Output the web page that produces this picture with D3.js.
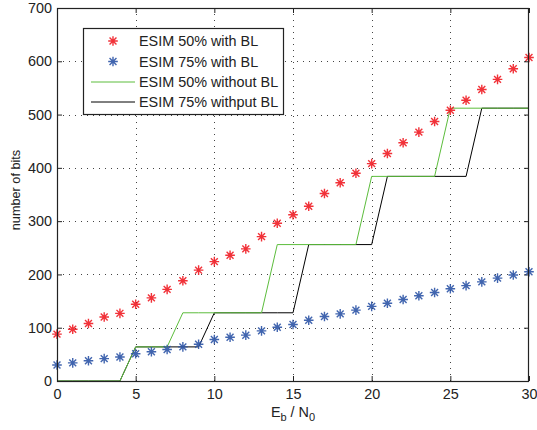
<!DOCTYPE html>
<html>
<head>
<meta charset="utf-8">
<script src="https://cdn.jsdelivr.net/npm/d3@7"></script>
<style>
  html, body { margin: 0; padding: 0; background: #fff; }
  svg text { font-family: "Liberation Sans", Arial, Helvetica, sans-serif; fill: #222; }
</style>
</head>
<body>
<svg id="chart" width="537" height="430"></svg>
<script>
// Eb/N0 sample points
const ebn0 = d3.range(0, 31);

// ESIM 50% with BL
const esim50BL = [88, 97, 108, 120, 127, 144, 156, 172, 188, 208, 224, 236, 248, 271, 296,
  312, 328, 352, 372, 390, 408, 427, 447, 467, 487, 508, 527, 547, 566, 586, 607];
// ESIM 75% with BL
const esim75BL = [30, 34, 38, 42, 45, 51, 55, 59, 64, 69, 78, 82, 86, 94, 101,
  106, 114, 121, 126, 133, 140, 146, 153, 160, 166, 173, 179, 186, 193, 199, 205];
// ESIM 50% without BL
const esim50 = [0, 0, 0, 0, 0, 64, 64, 64, 128, 128, 128, 128, 128, 128, 256,
  256, 256, 256, 256, 256, 384, 384, 384, 384, 384, 512, 512, 512, 512, 512, 512];
// ESIM 75% without BL
const esim75 = [0, 0, 0, 0, 0, 64, 64, 64, 64, 64, 128, 128, 128, 128, 128,
  128, 256, 256, 256, 256, 256, 384, 384, 384, 384, 384, 384, 512, 512, 512, 512];

const xTicks = [0, 5, 10, 15, 20, 25, 30];
const yTicks = [0, 100, 200, 300, 400, 500, 600, 700];

const legendLabels = ["ESIM 50% with BL", "ESIM 75% with BL", "ESIM 50% without BL", "ESIM 75% withput BL"];

const RED = "#f01c24", BLUE = "#2c54a6", GREEN = "#5cbd3c", BLACK = "#000";

const svg = d3.select("#chart");
const L = 57, R = 529, T = 8, B = 381;
const x = d3.scaleLinear().domain([0, 30]).range([L, R]);
const y = d3.scaleLinear().domain([0, 700]).range([B, T]);

// dotted grid
const grid = svg.append("g").attr("stroke", "#444").attr("stroke-width", 1)
  .attr("stroke-dasharray", "1,5");
xTicks.slice(1, -1).forEach(t => grid.append("line")
  .attr("x1", Math.round(x(t)) + 0.5).attr("x2", Math.round(x(t)) + 0.5)
  .attr("y1", T).attr("y2", B));
yTicks.slice(1, -1).forEach(t => grid.append("line")
  .attr("y1", Math.round(y(t)) + 0.5).attr("y2", Math.round(y(t)) + 0.5)
  .attr("x1", L).attr("x2", R));

// axes with inward ticks on all four sides
const fs = 14.4;
const ax = svg.append("g").attr("transform", `translate(0,${B})`)
  .call(d3.axisBottom(x).tickValues(xTicks).tickSizeInner(-5).tickSizeOuter(0).tickPadding(8));
const axTop = svg.append("g").attr("transform", `translate(0,${T})`)
  .call(d3.axisTop(x).tickValues(xTicks).tickSizeInner(-5).tickSizeOuter(0).tickFormat(""));
const ay = svg.append("g").attr("transform", `translate(${L},0)`)
  .call(d3.axisLeft(y).tickValues(yTicks).tickSizeInner(-5).tickSizeOuter(0).tickPadding(5));
const ayR = svg.append("g").attr("transform", `translate(${R},0)`)
  .call(d3.axisRight(y).tickValues(yTicks).tickSizeInner(-5).tickSizeOuter(0).tickFormat(""));
[ax, axTop, ay, ayR].forEach(g => {
  g.select(".domain").remove();
  g.selectAll("line").attr("stroke", "#222");
  g.selectAll("text").style("font-size", fs + "px").attr("fill", "#222");
});

// step lines
const line = d3.line().x((d, i) => x(ebn0[i])).y(d => y(d));
svg.append("path").datum(esim75).attr("d", line)
  .attr("fill", "none").attr("stroke", BLACK).attr("stroke-width", 1);
svg.append("path").datum(esim50).attr("d", line)
  .attr("fill", "none").attr("stroke", GREEN).attr("stroke-width", 1);

// asterisk marker
function star(g, cx, cy, color) {
  const r = 4.8, d = r * 0.72;
  const p = `M${cx - r},${cy}H${cx + r}M${cx},${cy - r}V${cy + r}` +
    `M${cx - d},${cy - d}L${cx + d},${cy + d}M${cx - d},${cy + d}L${cx + d},${cy - d}`;
  g.append("path").attr("d", p).attr("stroke", color).attr("stroke-width", 1.4)
    .attr("fill", "none").attr("opacity", 0.9);
}
const pts = svg.append("g");
esim50BL.forEach((v, i) => star(pts, x(ebn0[i]), y(v), RED));
esim75BL.forEach((v, i) => star(pts, x(ebn0[i]), y(v), BLUE));

// frame
svg.append("rect").attr("x", L + 0.5).attr("y", T + 0.5)
  .attr("width", R - L - 1).attr("height", B - T)
  .attr("fill", "none").attr("stroke", "#222").attr("stroke-width", 1.2);

// legend
const lg = svg.append("g");
lg.append("rect").attr("x", 83.5).attr("y", 28.5).attr("width", 200).attr("height", 86)
  .attr("fill", "#fff").attr("stroke", "#222").attr("stroke-width", 1.2);
const rowY = [41, 61.5, 82, 102];
legendLabels.forEach((lab, i) => {
  if (i === 0) star(lg, 113, rowY[i], RED);
  else if (i === 1) star(lg, 113, rowY[i], BLUE);
  else lg.append("line").attr("x1", 91).attr("x2", 135).attr("y1", rowY[i]).attr("y2", rowY[i])
    .attr("stroke", i === 2 ? GREEN : BLACK).attr("stroke-width", 1);
  lg.append("text").attr("x", 139).attr("y", rowY[i]).attr("dy", "0.35em")
    .style("font-size", fs + "px").text(lab);
});

// axis titles
svg.append("text").attr("transform", "translate(20,190) rotate(-90)")
  .attr("text-anchor", "middle").style("font-size", "12.7px").text("number of bits");
const xt = svg.append("text").attr("x", 293).attr("y", 417)
  .attr("text-anchor", "middle").style("font-size", fs + "px");
xt.append("tspan").text("E");
xt.append("tspan").attr("dy", 4).style("font-size", "11px").text("b");
xt.append("tspan").attr("dy", -4).text(" / N");
xt.append("tspan").attr("dy", 4).style("font-size", "11px").text("0");
</script>
</body>
</html>
